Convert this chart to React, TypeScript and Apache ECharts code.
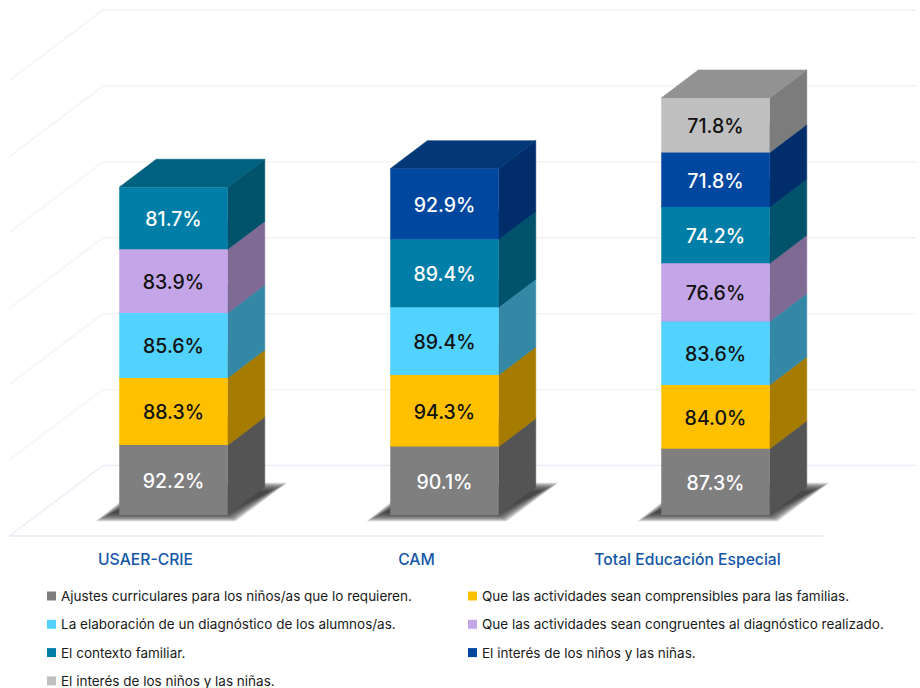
import React, { useEffect, useRef } from "react";
import * as echarts from "echarts";

const categories = ["USAER-CRIE", "CAM", "Total Educación Especial"];
const yTicks = [0, 100, 200, 300, 400, 500, 600];

const seriesNames = [
  "Ajustes curriculares para los niños/as que lo requieren.",
  "Que las actividades sean comprensibles para las familias.",
  "La elaboración de un diagnóstico de los alumnos/as.",
  "Que las actividades sean congruentes al diagnóstico realizado.",
  "El contexto familiar.",
  "El interés de los niños y las niñas.",
  "El interés de los niños y las niñas.",
];
const ajustes = [92.2, 90.1, 87.3];
const comprensibles = [88.3, 94.3, 84.0];
const elaboracion = [85.6, 89.4, 83.6];
const congruentes = [83.9, null, 76.6];
const contexto = [81.7, 89.4, 74.2];
const interesAzul = [null, 92.9, 71.8];
const interesGris = [null, null, 71.8];
const seriesValues = [ajustes, comprensibles, elaboracion, congruentes, contexto, interesAzul, interesGris];

const frontColors = ["#7f7f7f", "#ffc000", "#52d2ff", "#c4a6e8", "#007ea7", "#0047a0", "#bfbfbf"];
const sideColors = ["#545454", "#a67c00", "#3488a6", "#7f6a94", "#00536a", "#012e6b", "#7c7c7c"];
const topColors = ["#646464", "#c79500", "#40a3c7", "#997fb5", "#00627f", "#033878", "#929292"];
const labelColors = ["#ffffff", "#111111", "#111111", "#111111", "#ffffff", "#ffffff", "#111111"];
const shadowLayers = [5, 4.5, 4, 3.5, 3, 2.5, 2, 1.5, 1, 0.5, 0, -0.5, -1, -1.5, -2, -2.5, -3, -3.5, -4];

const FONT = "Inter";
const BAR_W = 108.5;
const BAR_DX = 37;
const BAR_DY = -28;
const BAR_SHIFT_X = 28;
const BAR_SHIFT_Y = -20.5;
const WALL_DX = 93;
const WALL_DY = -70;

export default function App() {
  const ref = useRef<HTMLDivElement>(null);
  useEffect(() => {
    const chart = echarts.init(ref.current!, undefined, { renderer: "svg" });

    const gridSeries = {
      type: "custom",
      silent: true,
      z: 1,
      clip: false,
      data: yTicks.map((v) => [0, v]),
      encode: { x: 0, y: 1 },
      renderItem: (params: any, api: any) => {
        const cs = params.coordSys;
        const y = api.coord([0, api.value(1)])[1];
        const isFloor = api.value(1) === 0;
        return {
          type: "polyline",
          shape: {
            points: [
              [cs.x, y],
              [cs.x + WALL_DX, y + WALL_DY],
              [cs.x + cs.width + WALL_DX, y + WALL_DY],
            ],
          },
          style: { fill: "none", stroke: isFloor ? "#efebf6" : "#f2f2f2", lineWidth: 1.3 },
        };
      },
    };

    const shadowSeries = {
      type: "custom",
      silent: true,
      z: 2,
      clip: false,
      data: categories.map((_, i) => [i, 0]),
      encode: { x: 0, y: 1 },
      renderItem: (_: any, api: any) => {
        const p = api.coord([api.value(0), 0]);
        const x0 = p[0] + BAR_SHIFT_X - BAR_W / 2;
        const y0 = p[1] + BAR_SHIFT_Y;
        return {
          type: "group",
          children: shadowLayers.map((d) => ({
            type: "polygon",
            shape: {
              points: [
                [x0 - 14 - 2 * d, y0 + 1.5 + d],
                [x0 + BAR_W + 3 + d, y0 + 1.5 + d],
                [x0 + BAR_W + 50 + 2 * d, y0 - 27.5 - d],
                [x0 + 30 - d, y0 - 27.5 - d],
              ],
            },
            style: { fill: "#333333", opacity: 0.1 },
          })),
        };
      },
    };

    const levels = seriesNames.map((name, level) => ({
      type: "custom",
      name,
      silent: true,
      z: 3 + level,
      clip: false,
      encode: { x: 0, y: 1 },
      itemStyle: { color: frontColors[level] },
      data: categories
        .map((_, i) => {
          const v = seriesValues[level][i];
          if (v === null) return null;
          let base = 0;
          for (let k = 0; k < level; k++) base += seriesValues[k][i] ?? 0;
          return [i, v, base];
        })
        .filter(Boolean),
      renderItem: (_: any, api: any) => {
        const i = api.value(0);
        const v = api.value(1);
        const base = api.value(2);
        const c = api.coord([i, 0]);
        const yBot = api.coord([i, base])[1] + BAR_SHIFT_Y;
        const yTop = api.coord([i, base + v])[1] + BAR_SHIFT_Y;
        const xL = c[0] + BAR_SHIFT_X - BAR_W / 2;
        const xR = xL + BAR_W;
        return {
          type: "group",
          children: [
            {
              type: "polygon",
              shape: { points: [[xR, yBot], [xR + BAR_DX, yBot + BAR_DY], [xR + BAR_DX, yTop + BAR_DY], [xR, yTop]] },
              style: { fill: sideColors[level], stroke: sideColors[level], lineWidth: 0.6 },
            },
            {
              type: "polygon",
              shape: { points: [[xL, yTop], [xR, yTop], [xR + BAR_DX, yTop + BAR_DY], [xL + BAR_DX, yTop + BAR_DY]] },
              style: { fill: topColors[level], stroke: topColors[level], lineWidth: 0.6 },
            },
            { type: "rect", shape: { x: xL, y: yTop, width: BAR_W, height: yBot - yTop }, style: { fill: frontColors[level] } },
            {
              type: "text",
              style: {
                x: (xL + xR) / 2,
                y: (yTop + yBot) / 2 + 1,
                text: v.toFixed(1) + "%",
                fill: labelColors[level],
                font: `500 19.5px ${FONT}`,
                align: "center",
                verticalAlign: "middle",
              },
            },
          ],
        };
      },
    }));

    const legendBase = {
      orient: "vertical",
      selectedMode: false,
      icon: "rect",
      itemWidth: 9,
      itemHeight: 9,
      itemGap: 12.3,
      height: 120,
      textStyle: { fontFamily: FONT, fontSize: 13.5, lineHeight: 16, color: "#1a1a1a", fontWeight: 400 },
      padding: 0,
    };
    const legendItem = (i: number) => ({ name: seriesNames[i], itemStyle: { color: frontColors[i] } });

    chart.setOption({
      animation: false,
      backgroundColor: "#ffffff",
      grid: { left: 10, top: 80, width: 813, height: 455.5 },
      xAxis: {
        type: "category",
        data: categories,
        axisLine: { show: true, lineStyle: { color: "#ece8f5", width: 1.5 } },
        axisTick: { show: false },
        axisLabel: { color: "#1457a8", fontFamily: FONT, fontSize: 15.7, margin: 16, fontWeight: 500 },
      },
      yAxis: { type: "value", min: 0, max: 600, interval: 100, show: false },
      legend: [
        { ...legendBase, left: 47, top: 588, data: [0, 2, 4, 6].map(legendItem) },
        { ...legendBase, left: 468, top: 588, data: [1, 3, 5].map(legendItem) },
      ],
      series: [gridSeries, shadowSeries, ...levels],
    });
    return () => chart.dispose();
  }, []);
  return <div ref={ref} style={{ position: "fixed", left: 0, top: 0, width: 920, height: 688 }} />;
}
